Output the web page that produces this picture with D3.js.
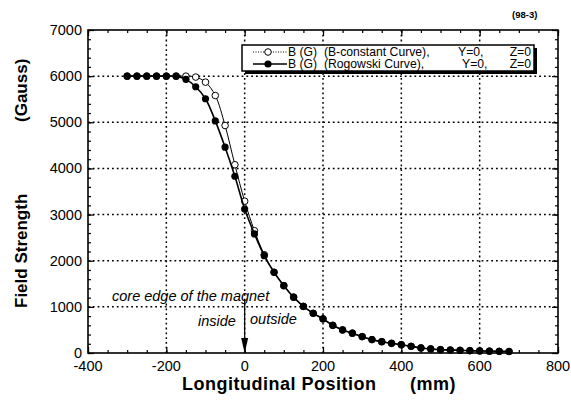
<!DOCTYPE html>
<html><head><meta charset="utf-8">
<script src="https://cdn.jsdelivr.net/npm/d3@7"></script>
<style>
body{margin:0;background:#fff;}
text{font-family:"Liberation Sans",Arial,Helvetica,sans-serif;fill:#000;}
</style></head>
<body><svg id="c" width="571" height="403"></svg>
<script>
const positions = [-300,-275,-250,-225,-200,-175,-150,-125,-100,-75,-50,-25,0,25,50,75,100,125,150,175,200,225,250,275,300,325,350,375,400,425,450,475,500,525,550,575,600,625,650,675];
const rogowski = [6000,6000,6000,6000,6000,6000,5930,5770,5510,5030,4460,3830,3120,2580,2110,1750,1460,1210,1010,860,740,600,500,430,355,290,245,210,180,145,110,88,73,65,58,50,45,40,36,33];
const bconstant = [6000,6000,6000,6000,6000,6000,6000,5980,5870,5580,4930,4080,3290,2650,2130,1750,1460,1210,1010,860,740,600,500,430,355,290,245,210,180,145,110,88,73,65,58,50,45,40,36,33];
const xTicks = [-400,-200,0,200,400,600,800];
const yTicks = [0,1000,2000,3000,4000,5000,6000,7000];
const seriesNames = ["B (G)  (B-constant Curve),", "B (G)  (Rogowski Curve),"];
const seriesYZ = [["Y=0,","Z=0"],["Y=0,","Z=0"]];

const svg = d3.select("#c");
const L=88, R=558, T=30, B=353;
const x = d3.scaleLinear().domain([-400,800]).range([L,R]);
const y = d3.scaleLinear().domain([0,7000]).range([B,T]);

// grid
const g = svg.append("g");
g.selectAll(".gx").data(xTicks.slice(1,-1)).enter().append("line")
  .attr("x1",d=>x(d)).attr("x2",d=>x(d)).attr("y1",T).attr("y2",B)
  .attr("stroke","#000").attr("stroke-width",1.5).attr("stroke-dasharray","1.8,3");
g.selectAll(".gy").data(yTicks.slice(1,-1)).enter().append("line")
  .attr("y1",d=>y(d)).attr("y2",d=>y(d)).attr("x1",L).attr("x2",R)
  .attr("stroke","#000").attr("stroke-width",1.5).attr("stroke-dasharray","1.8,3");

// axes with inward ticks
function axisSet(axisGen, transform, majors, minors){
  const a = svg.append("g").attr("transform",transform);
  a.call(axisGen.tickValues(minors).tickSize(3).tickFormat(""));
  a.selectAll("path").remove();
  const b = svg.append("g").attr("transform",transform);
  b.call(axisGen.tickValues(majors).tickSize(6).tickFormat(""));
  b.selectAll("path").remove();
  return b;
}
const xMinor = d3.range(-400,801,50), yMinor = d3.range(0,7001,200);
axisSet(d3.axisTop(x), `translate(0,${B})`, xTicks, xMinor);
axisSet(d3.axisBottom(x), `translate(0,${T})`, xTicks, xMinor);
axisSet(d3.axisRight(y), `translate(${L},0)`, yTicks, yMinor);
axisSet(d3.axisLeft(y), `translate(${R},0)`, yTicks, yMinor);
svg.selectAll(".tick line").attr("stroke","#000").attr("stroke-width",1.2);

// tick labels
svg.append("g").selectAll("text").data(xTicks).enter().append("text")
  .attr("x",d=>x(d)).attr("y",371).attr("text-anchor","middle")
  .style("font-size","14.5px").text(d=>d);
svg.append("g").selectAll("text").data(yTicks).enter().append("text")
  .attr("x",82).attr("y",d=>y(d)+5).attr("text-anchor","end")
  .style("font-size","14.5px").text(d=>d);

// frame
svg.append("rect").attr("x",L).attr("y",T).attr("width",R-L).attr("height",B-T)
  .attr("fill","none").attr("stroke","#000").attr("stroke-width",1.6);

// series
const ptsB = positions.map((p,i)=>[p,bconstant[i]]);
const ptsR = positions.map((p,i)=>[p,rogowski[i]]);
const line = d3.line().x(d=>x(d[0])).y(d=>y(d[1])).curve(d3.curveCatmullRom);
svg.append("path").attr("d",line(ptsB)).attr("fill","none").attr("stroke","#000").attr("stroke-width",1);
svg.append("g").selectAll("circle").data(ptsB).enter().append("circle")
  .attr("cx",d=>x(d[0])).attr("cy",d=>y(d[1])).attr("r",3.3)
  .attr("fill","#fff").attr("stroke","#000").attr("stroke-width",1);
svg.append("path").attr("d",line(ptsR)).attr("fill","none").attr("stroke","#000").attr("stroke-width",1.6);
svg.append("g").selectAll("circle").data(ptsR).enter().append("circle")
  .attr("cx",d=>x(d[0])).attr("cy",d=>y(d[1])).attr("r",3.6).attr("fill","#000");

// legend
const lg = svg.append("g");
lg.append("rect").attr("x",245).attr("y",48).attr("width",292).attr("height",26).attr("fill","#000");
lg.append("rect").attr("x",242).attr("y",45).attr("width",292).attr("height",26)
  .attr("fill","#fff").attr("stroke","#000").attr("stroke-width",1.5);
const rowsY=[52,64];
lg.append("line").attr("x1",253).attr("x2",287).attr("y1",rowsY[0]).attr("y2",rowsY[0])
  .attr("stroke","#000").attr("stroke-width",1).attr("stroke-dasharray","1,1.5");
lg.append("circle").attr("cx",268).attr("cy",rowsY[0]).attr("r",3.3).attr("fill","#fff").attr("stroke","#000");
lg.append("line").attr("x1",253).attr("x2",287).attr("y1",rowsY[1]).attr("y2",rowsY[1])
  .attr("stroke","#000").attr("stroke-width",1.5);
lg.append("circle").attr("cx",268).attr("cy",rowsY[1]).attr("r",3.6).attr("fill","#000");
seriesNames.forEach((n,i)=>{
  lg.append("text").attr("x",288).attr("y",rowsY[i]+4.2).style("font-size","12.2px")
    .attr("xml:space","preserve").style("white-space","pre").text(n);
  lg.append("text").attr("x",i?462:458).attr("y",rowsY[i]+4.2).style("font-size","12.2px").text(seriesYZ[i][0]);
  lg.append("text").attr("x",531).attr("y",rowsY[i]+4.2).attr("text-anchor","end").style("font-size","12.2px").text(seriesYZ[i][1]);
});

// annotations
const ital = {"font-size":"14.5px","font-style":"italic"};
function t(txt,xx,yy,st,anchor){const e=svg.append("text").attr("x",xx).attr("y",yy).text(txt);
  if(anchor)e.attr("text-anchor",anchor); for(const k in st)e.style(k,st[k]); return e;}
t("core edge of the magnet",112,301,ital);
t("inside",198,326,ital);
t("outside",250,324,ital);
svg.append("line").attr("x1",x(0)).attr("x2",x(0)).attr("y1",300).attr("y2",340)
  .attr("stroke","#000").attr("stroke-width",1.2);
svg.append("path").attr("d",`M${x(0)-3.5},338 L${x(0)+3.5},338 L${x(0)},${B} Z`).attr("fill","#000");

// titles
t("(98-3)",512,18,{"font-size":"9.5px","font-weight":"bold"});
t("Longitudinal Position",182,390,{"font-size":"18px","font-weight":"bold","letter-spacing":"0.5px"});
t("(mm)",410,390,{"font-size":"18px","font-weight":"bold","letter-spacing":"0.5px"});
svg.append("text").attr("transform","translate(27,308) rotate(-90)").style("font-size","17px").style("font-weight","bold").text("Field Strength");
svg.append("text").attr("transform","translate(27,122) rotate(-90)").style("font-size","17px").style("font-weight","bold").text("(Gauss)");
</script></body></html>
